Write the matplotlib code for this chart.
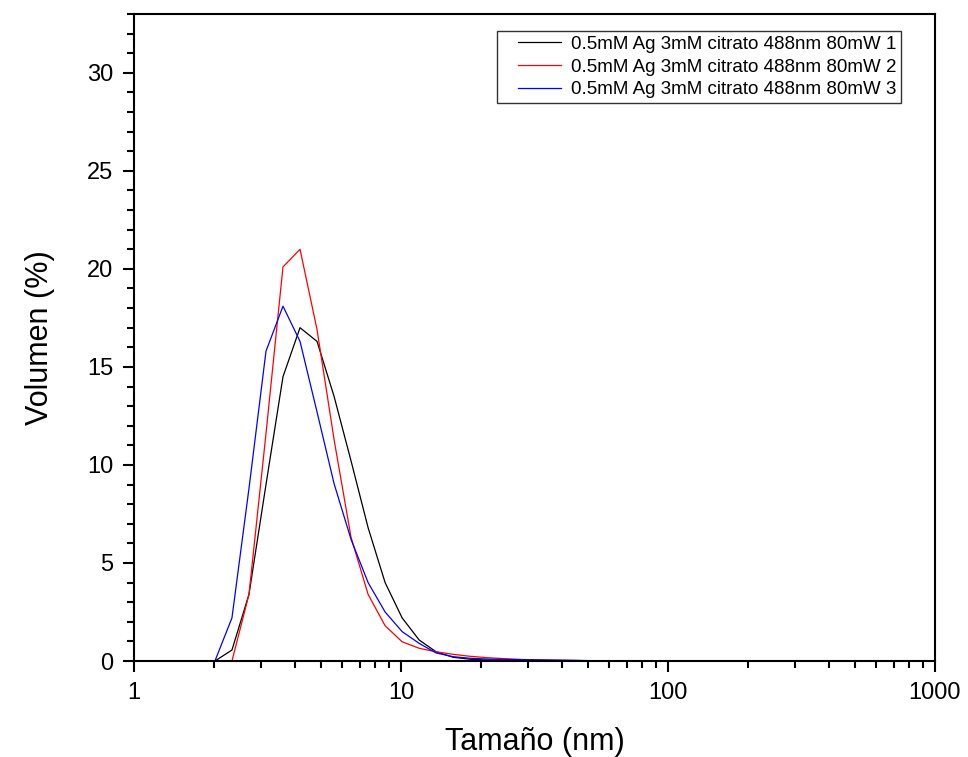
import matplotlib.pyplot as plt
from matplotlib.legend_handler import HandlerLine2D
from matplotlib.ticker import MultipleLocator, NullFormatter

plt.rcParams['font.family'] = ['Liberation Sans', 'DejaVu Sans']

# size bins (nm) and volume distributions (%)
size_nm = [0.9649, 1.117, 1.294, 1.499, 1.736, 2.01, 2.328, 2.696, 3.122,
           3.615, 4.187, 4.849, 5.615, 6.503, 7.531, 8.721, 10.1, 11.7,
           13.54, 15.69, 18.17, 21.04, 24.36, 28.21, 32.67, 37.84, 43.82,
           50.75, 58.77, 68.06, 78.82, 91.28, 105.7, 122.4, 141.8, 164.2,
           190.1, 220.2, 255.0, 295.3, 342.0, 396.1, 458.7, 531.2, 615.1,
           712.4, 825.0, 955.4, 1106.0]
n_tail = len(size_nm)

run1 = [0, 0, 0, 0, 0, 0, 0.56, 3.4, 9.0, 14.5, 17.0, 16.3, 13.5, 10.2,
        6.8, 4.0, 2.2, 1.07, 0.47, 0.19, 0.09, 0.05, 0.03, 0.02, 0.01]
run2 = [0, 0, 0, 0, 0, 0, 0, 3.4, 11.6, 20.1, 21.0, 16.9, 11.3, 6.3,
        3.4, 1.8, 0.98, 0.65, 0.47, 0.34, 0.24, 0.17, 0.12, 0.08, 0.05,
        0.03, 0.02]
run3 = [0, 0, 0, 0, 0, 0, 2.2, 8.8, 15.8, 18.1, 16.3, 12.7, 9.05, 6.2,
        4.0, 2.5, 1.5, 0.9, 0.41, 0.22, 0.14, 0.1, 0.08, 0.07, 0.06, 0.05,
        0.04, 0.02]

labels = ['0.5mM Ag 3mM citrato 488nm 80mW 1',
          '0.5mM Ag 3mM citrato 488nm 80mW 2',
          '0.5mM Ag 3mM citrato 488nm 80mW 3']
colors = ['black', 'red', 'blue']


def pad_zeros(vals):
    return vals + [0] * (n_tail - len(vals))


fig = plt.figure(figsize=(9.68, 7.57), dpi=100)
ax = fig.add_axes([0.1384, 0.1268, 0.8275, 0.8547])

lines = []
for vals, lab, col in zip([run1, run2, run3], labels, colors):
    ln, = ax.plot(size_nm, pad_zeros(vals), color=col, lw=0.9, label=lab)
    lines.append(ln)

ax.set_xscale('log')
ax.set_xlim(1, 1000)
ax.set_ylim(0, 33)
ax.set_xticks([1, 10, 100, 1000], ['1', '10', '100', '1000'])
ax.xaxis.set_minor_formatter(NullFormatter())
ax.set_yticks([0, 5, 10, 15, 20, 25, 30])
ax.yaxis.set_minor_locator(MultipleLocator(1))

for s in ax.spines.values():
    s.set_linewidth(1.5)
ax.tick_params(which='both', direction='out', width=1.5, labelsize=17, pad=7)
ax.tick_params(which='major', length=8)
ax.tick_params(which='minor', length=5)

ax.set_xlabel('Tamaño (nm)', fontsize=22, labelpad=17)
ax.set_ylabel('Volumen (%)', fontsize=22, labelpad=23)

# legend: line handles indented from the frame like the original
leg = ax.legend(handles=lines, loc='upper left',
                bbox_to_anchor=(0.4532, 0.9737), borderaxespad=0,
                fontsize=13.5, frameon=True, fancybox=False,
                handlelength=3.15, labelspacing=0.3, borderpad=0.25,
                handletextpad=0.55,
                handler_map={ln: HandlerLine2D(xpad=0.85) for ln in lines})
leg.get_frame().set_edgecolor('black')
leg.get_frame().set_linewidth(1.0)

fig.savefig('out.png', dpi=100)
